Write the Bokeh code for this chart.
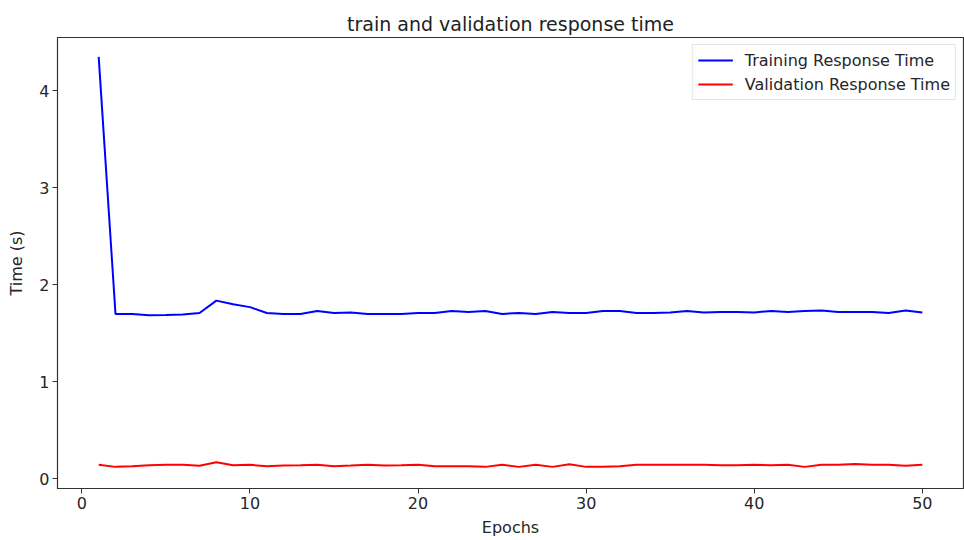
from bokeh.plotting import figure
from bokeh.models import ColumnDataSource, Range1d, FixedTicker, Legend, LegendItem
from bokeh.embed import file_html
from bokeh.resources import INLINE

epochs = list(range(1, 51))
train_time = [4.35, 1.70, 1.70, 1.686, 1.69, 1.695, 1.71, 1.837, 1.80, 1.77,
              1.71, 1.70, 1.70, 1.73, 1.71, 1.715, 1.70, 1.70, 1.70, 1.71,
              1.71, 1.73, 1.72, 1.73, 1.70, 1.71, 1.70, 1.72, 1.71, 1.71,
              1.73, 1.73, 1.71, 1.71, 1.715, 1.73, 1.715, 1.72, 1.72, 1.715,
              1.73, 1.72, 1.73, 1.735, 1.72, 1.72, 1.72, 1.71, 1.735, 1.715]
val_time = [0.144, 0.123, 0.13, 0.14, 0.146, 0.144, 0.134, 0.171, 0.14, 0.144,
            0.13, 0.137, 0.14, 0.144, 0.13, 0.137, 0.146, 0.137, 0.14, 0.146,
            0.13, 0.13, 0.13, 0.123, 0.146, 0.123, 0.144, 0.123, 0.15, 0.123,
            0.123, 0.13, 0.144, 0.144, 0.144, 0.144, 0.144, 0.14, 0.14, 0.146,
            0.14, 0.144, 0.123, 0.144, 0.146, 0.153, 0.146, 0.146, 0.134, 0.144]
x_ticks = [0, 10, 20, 30, 40, 50]
y_ticks = [0, 1, 2, 3, 4]

src = ColumnDataSource(dict(epoch=epochs, train=train_time, val=val_time))

FONT = "DejaVu Sans"
p = figure(width=964, height=540, output_backend="svg", toolbar_location=None,
           title="train and validation response time",
           x_range=Range1d(-1.45, 52.45), y_range=Range1d(-0.1, 4.55),
           min_border_left=57, min_border_right=1, min_border_top=37, min_border_bottom=52)

r1 = p.line("epoch", "train", source=src, line_color="#0000ff", line_width=2)
r2 = p.line("epoch", "val", source=src, line_color="#ff0000", line_width=2)

p.title.align = "center"
p.title.text_font = FONT
p.title.text_font_size = "19px"
p.title.text_font_style = "normal"
p.title.text_color = "#222222"
p.title.standoff = 6

p.xgrid.visible = False
p.ygrid.visible = False
p.outline_line_color = "#333333"
p.outline_line_width = 1.2
p.background_fill_color = "white"

p.xaxis.ticker = FixedTicker(ticks=x_ticks)
p.yaxis.ticker = FixedTicker(ticks=y_ticks)
p.xaxis.axis_label = "Epochs"
p.yaxis.axis_label = "Time (s)"
for ax in (p.xaxis, p.yaxis):
    ax.axis_label_text_font = FONT
    ax.axis_label_text_font_size = "16px"
    ax.axis_label_text_font_style = "normal"
    ax.axis_label_text_color = "#262626"
    ax.major_label_text_font = FONT
    ax.major_label_text_font_size = "16px"
    ax.major_label_text_color = "#262626"
    ax.axis_line_color = "#333333"
    ax.major_tick_line_color = "#333333"
    ax.major_tick_out = 5
    ax.major_tick_in = 0
    ax.minor_tick_line_color = None
    ax.major_label_standoff = 3
p.xaxis.axis_label_standoff = 6
p.yaxis.axis_label_standoff = 10

legend = Legend(items=[LegendItem(label="Training Response Time", renderers=[r1]),
                       LegendItem(label="Validation Response Time", renderers=[r2])],
                location="top_right")
legend.label_text_font = FONT
legend.label_text_font_size = "16px"
legend.label_text_color = "#262626"
legend.glyph_width = 35
legend.glyph_height = 20
legend.label_height = 20
legend.label_standoff = 12
legend.spacing = 4
legend.padding = 5
legend.margin = 7
legend.border_line_color = "#cccccc"
legend.border_line_width = 1
legend.background_fill_alpha = 0.8
p.add_layout(legend)

open("out.html", "w").write(file_html(p, INLINE))
